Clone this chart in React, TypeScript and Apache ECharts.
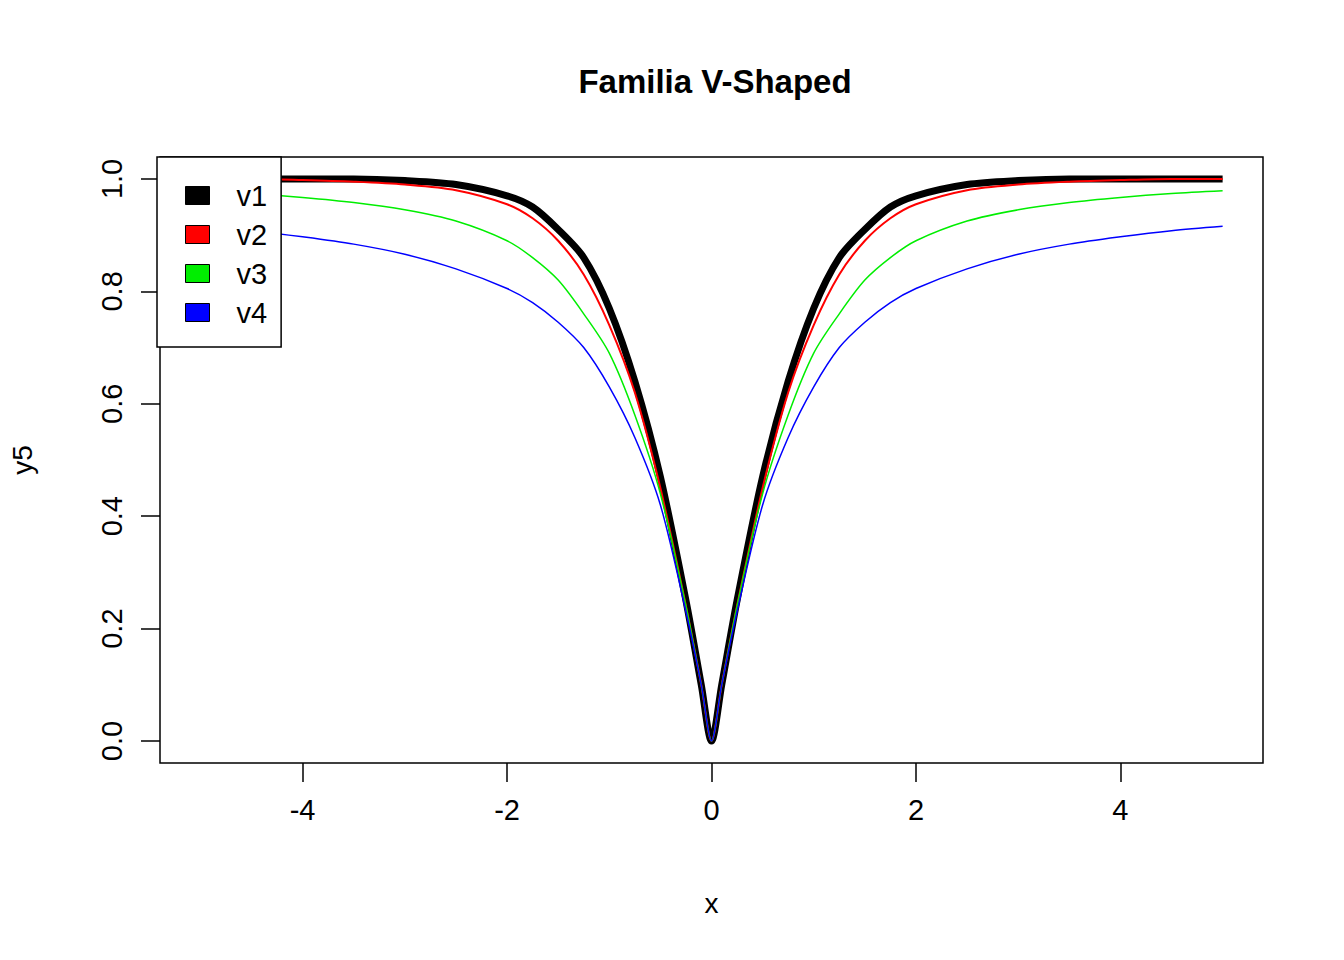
import React, { useEffect, useRef } from 'react'
import * as echarts from 'echarts'

// x sample points
const xs = [-5, -4.5, -4, -3.5, -3, -2.5, -2, -1.75, -1.5, -1.25, -1, -0.75, -0.5, -0.25, -0.1, 0,
  0.1, 0.25, 0.5, 0.75, 1, 1.25, 1.5, 1.75, 2, 2.5, 3, 3.5, 4, 4.5, 5]

const v1 = [1, 1, 1, 1, 0.997, 0.99, 0.97, 0.95, 0.91, 0.86, 0.77, 0.64, 0.47, 0.25, 0.1, 0,
  0.1, 0.25, 0.47, 0.64, 0.77, 0.86, 0.91, 0.95, 0.97, 0.99, 0.997, 1, 1, 1, 1]
const v2 = [1, 1, 0.998, 0.995, 0.99, 0.98, 0.955, 0.93, 0.89, 0.83, 0.74, 0.62, 0.45, 0.24, 0.1, 0,
  0.1, 0.24, 0.45, 0.62, 0.74, 0.83, 0.89, 0.93, 0.955, 0.98, 0.99, 0.995, 0.998, 1, 1]
const v3 = [0.979, 0.974, 0.967, 0.958, 0.945, 0.925, 0.89, 0.86, 0.82, 0.76, 0.69, 0.58, 0.44, 0.24, 0.1, 0,
  0.1, 0.24, 0.44, 0.58, 0.69, 0.76, 0.82, 0.86, 0.89, 0.925, 0.945, 0.958, 0.967, 0.974, 0.979]
const v4 = [0.916, 0.908, 0.897, 0.884, 0.866, 0.84, 0.805, 0.78, 0.745, 0.7, 0.63, 0.54, 0.42, 0.23, 0.1, 0,
  0.1, 0.23, 0.42, 0.54, 0.63, 0.7, 0.745, 0.78, 0.805, 0.84, 0.866, 0.884, 0.897, 0.908, 0.916]

const xTicks = [-4, -2, 0, 2, 4]
const yTicks = [0, 0.2, 0.4, 0.6, 0.8, 1]

const font = 'Liberation Sans, Arial, sans-serif'

const App: React.FC = () => {
  const chartRef = useRef<HTMLDivElement>(null)

  useEffect(() => {
    if (!chartRef.current) return
    const chart = echarts.init(chartRef.current, undefined, { renderer: 'svg' })

    const mk = (name: string, ys: number[], color: string, width: number) => ({
      name,
      type: 'line',
      data: xs.map((x, i) => [x, ys[i]]),
      symbol: 'none',
      smooth: 0.3,
      color,
      lineStyle: { color, width },
      z: 2
    })

    const option: any = {
      animation: false,
      backgroundColor: '#fff',
      title: {
        text: 'Familia V-Shaped',
        left: 710,
        textAlign: 'center',
        top: 60,
        textStyle: { fontFamily: font, fontSize: 33, fontWeight: 'bold', color: '#000' }
      },
      grid: {
        left: 157, right: 81, top: 157, bottom: 197,
        show: true, borderColor: '#000', borderWidth: 1.5, backgroundColor: 'transparent'
      },
      legend: {
        orient: 'vertical',
        left: 157,
        top: 157,
        icon: 'rect',
        itemWidth: 24,
        itemHeight: 18,
        itemGap: 10,
        padding: [24, 14, 20, 28],
        backgroundColor: '#fff',
        borderColor: '#000',
        borderWidth: 1.5,
        borderRadius: 0,
        itemStyle: { borderColor: '#000', borderWidth: 1 },
        textStyle: { fontFamily: font, fontSize: 29, color: '#000', padding: [0, 0, 0, 22] },
        data: ['v1', 'v2', 'v3', 'v4']
      },
      xAxis: {
        type: 'value',
        min: -5.395,
        max: 5.395,
        name: 'x',
        nameLocation: 'middle',
        nameGap: 126,
        nameTextStyle: { fontFamily: font, fontSize: 28, color: '#000' },
        axisLine: { show: false, onZero: false },
        splitLine: { show: false },
        axisTick: { show: true, length: 19, customValues: xTicks, lineStyle: { color: '#000', width: 1.5 } },
        axisLabel: { customValues: xTicks, fontFamily: font, fontSize: 29, color: '#000', margin: 32 }
      },
      yAxis: {
        type: 'value',
        min: -0.039,
        max: 1.039,
        name: 'y5',
        nameLocation: 'middle',
        nameGap: 124,
        nameTextStyle: { fontFamily: font, fontSize: 28, color: '#000' },
        axisLine: { show: false, onZero: false },
        splitLine: { show: false },
        axisTick: { show: true, length: 19, customValues: yTicks, lineStyle: { color: '#000', width: 1.5 } },
        axisLabel: {
          customValues: yTicks,
          rotate: 90,
          fontFamily: font,
          fontSize: 29,
          color: '#000',
          margin: 34,
          formatter: (v: number) => v.toFixed(1)
        }
      },
      // black first (bottom), blue on top, as in the reference
      series: [
        mk('v1', v1, '#000000', 7),
        mk('v2', v2, '#ff0000', 2),
        mk('v3', v3, '#00ee00', 1.5),
        mk('v4', v4, '#0000ff', 1.5)
      ]
    }
    chart.setOption(option)

    return () => chart.dispose()
  }, [])

  return <div ref={chartRef} style={{ width: 1344, height: 960, margin: -8 }} />
}

export default App
